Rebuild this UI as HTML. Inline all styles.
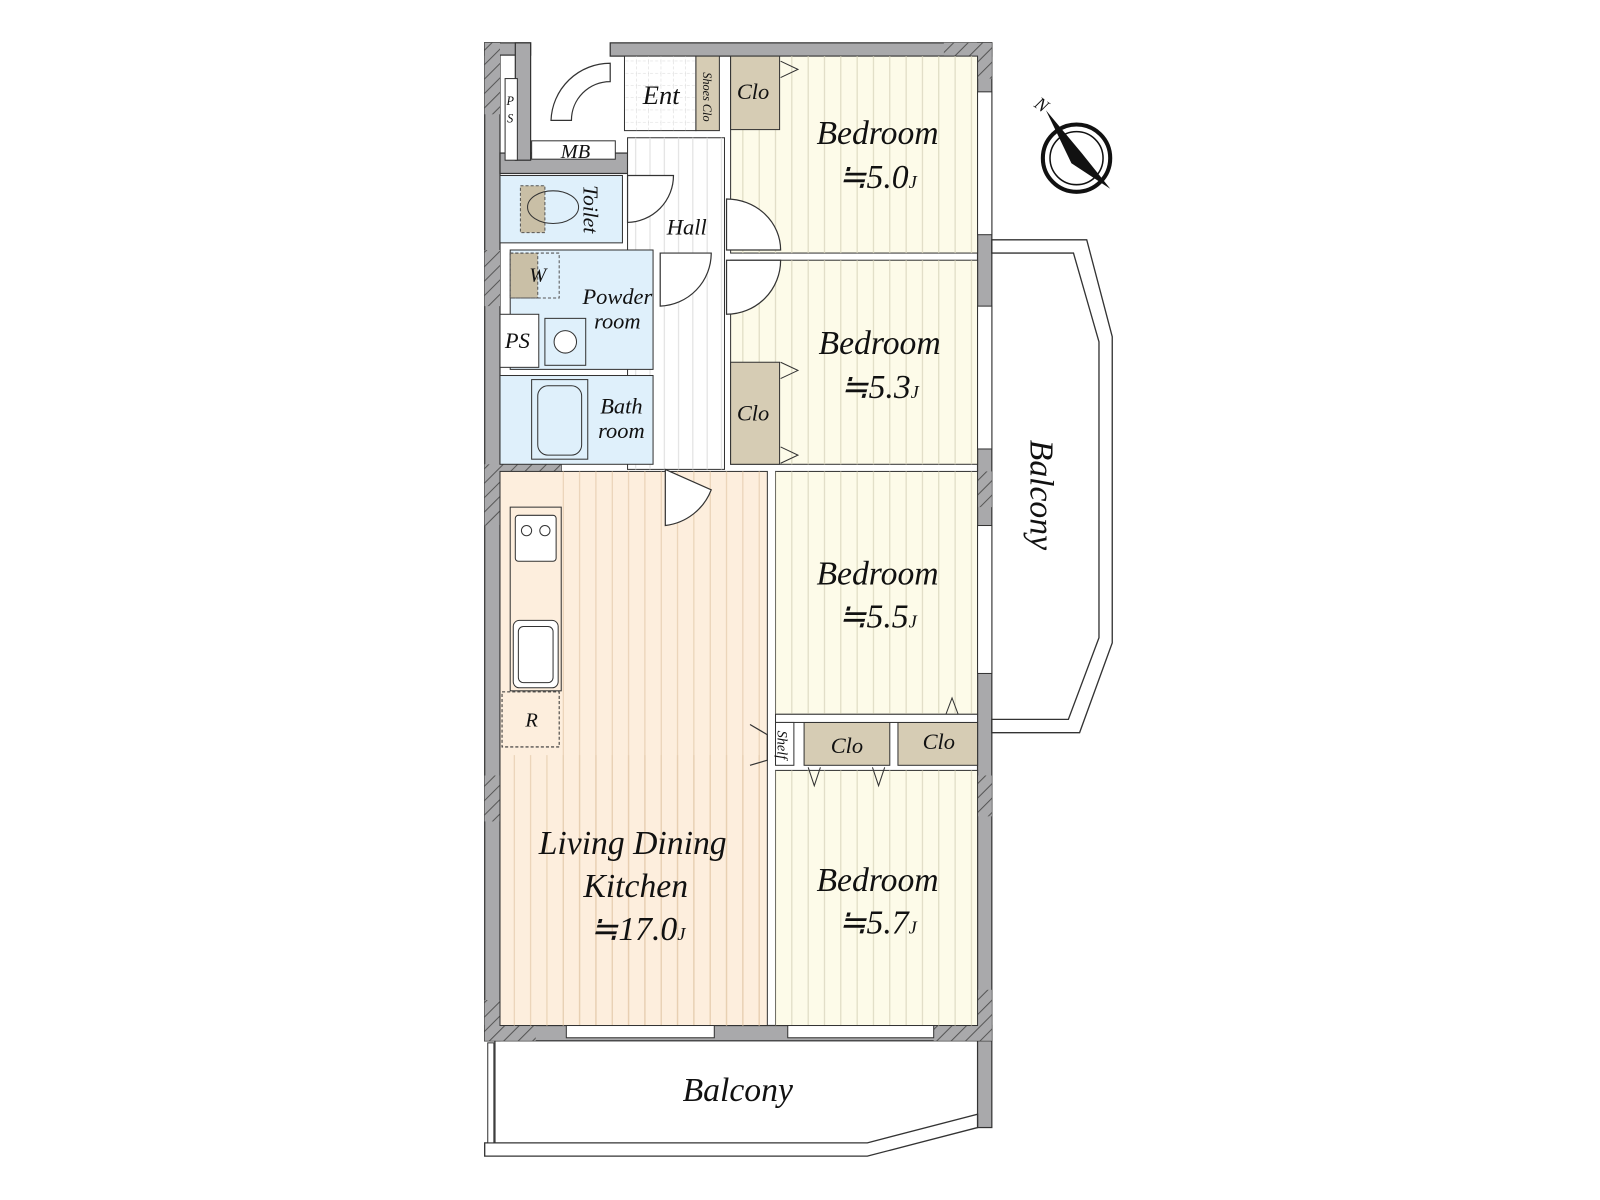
<!DOCTYPE html>
<html><head><meta charset="utf-8"><style>
html,body{margin:0;padding:0;background:#fff;}
svg{display:block}
text{font-family:"Liberation Serif",serif;font-style:italic;fill:#111}
</style></head><body>
<svg width="1600" height="1200" viewBox="0 0 1568 1176" xmlns="http://www.w3.org/2000/svg">
<defs>
<pattern id="st" width="16" height="20" patternUnits="userSpaceOnUse"><line x1="8" y1="0" x2="8" y2="20" stroke="#d9d6bd" stroke-width="1"/></pattern>
<pattern id="st2" width="16" height="20" patternUnits="userSpaceOnUse"><line x1="8" y1="0" x2="8" y2="20" stroke="#e6cdb0" stroke-width="1"/></pattern>
<pattern id="sth" width="14" height="20" patternUnits="userSpaceOnUse"><line x1="7" y1="0" x2="7" y2="20" stroke="#ddd" stroke-width="1"/></pattern>
<pattern id="tile" width="12" height="12" patternUnits="userSpaceOnUse"><path d="M12 0V12H0" fill="none" stroke="#ccc" stroke-width="0.8" stroke-dasharray="3 2"/></pattern>
<pattern id="hatch" width="10" height="10" patternUnits="userSpaceOnUse" patternTransform="rotate(45)"><rect width="10" height="10" fill="#a9a9ab"/><line x1="0" y1="0" x2="0" y2="10" stroke="#555" stroke-width="2"/></pattern>
</defs>
<g fill="#a9a9ab" stroke="#333" stroke-width="1.2">
<rect x="475" y="42" width="15" height="978"/>
<rect x="475" y="42" width="45" height="12"/>
<rect x="598" y="42" width="374" height="13"/>
<rect x="958" y="42" width="14" height="1063"/>
<rect x="475" y="1005" width="497" height="15"/>
<rect x="490" y="150" width="125" height="20"/>
<rect x="505" y="42" width="15" height="115"/>
<rect x="490" y="455" width="60" height="8"/>
</g>
<g fill="url(#hatch)">
<rect x="475" y="42" width="15" height="70"/>
<rect x="475" y="245" width="15" height="55"/>
<rect x="475" y="455" width="75" height="60"/>
<rect x="475" y="760" width="15" height="45"/>
<rect x="475" y="980" width="50" height="40"/>
<rect x="925" y="42" width="47" height="35"/>
<rect x="925" y="462" width="47" height="35"/>
<rect x="915" y="970" width="57" height="50"/>
<rect x="958" y="760" width="14" height="40"/>
</g>
<rect x="716" y="55" width="242" height="193" fill="#fdfbe9" stroke="#333"/>
<rect x="716" y="55" width="242" height="193" fill="url(#st)"/>
<rect x="716" y="255" width="242" height="200" fill="#fdfbe9" stroke="#333"/>
<rect x="716" y="255" width="242" height="200" fill="url(#st)"/>
<rect x="760" y="462" width="198" height="238" fill="#fdfbe9" stroke="#333"/>
<rect x="760" y="462" width="198" height="238" fill="url(#st)"/>
<rect x="760" y="755" width="198" height="250" fill="#fdfbe9" stroke="#333"/>
<rect x="760" y="755" width="198" height="250" fill="url(#st)"/>
<rect x="490" y="462" width="262" height="543" fill="#fdeedd" stroke="#333"/>
<rect x="550" y="462" width="202" height="543" fill="url(#st2)"/>
<rect x="490" y="740" width="262" height="265" fill="url(#st2)"/>
<rect x="615" y="135" width="95" height="325" fill="#fff" stroke="#333"/>
<rect x="615" y="135" width="95" height="325" fill="url(#sth)"/>
<rect x="612" y="55" width="70" height="73" fill="#fff" stroke="#333"/>
<rect x="612" y="55" width="70" height="73" fill="url(#tile)"/>
<rect x="682" y="55" width="23" height="73" fill="#d6ccb4" stroke="#333"/>
<rect x="716" y="55" width="48" height="72" fill="#d6ccb4" stroke="#333"/>
<rect x="716" y="355" width="48" height="100" fill="#d6ccb4" stroke="#333"/>
<rect x="788" y="708" width="84" height="42" fill="#d6ccb4" stroke="#333"/>
<rect x="880" y="708" width="78" height="42" fill="#d6ccb4" stroke="#333"/>
<rect x="760" y="700" width="198" height="8" fill="#fff" stroke="#333"/>
<rect x="760" y="708" width="18" height="42" fill="#fff" stroke="#333"/>
<g fill="none" stroke="#333">
<path d="M765 60 L782 68 L765 76"/><path d="M765 355 L782 363 L765 371"/><path d="M765 438 L782 446 L765 454"/>
<path d="M627 368 L632 386 L637 368"/>
<path d="M792 752 L798 770 L804 752"/><path d="M855 752 L861 770 L867 752"/>
<path d="M927 700 L933 684 L939 700"/>
</g>
<rect x="490" y="172" width="120" height="66" fill="#dff0fb" stroke="#333"/>
<rect x="500" y="245" width="140" height="117" fill="#dff0fb" stroke="#333"/>
<rect x="490" y="368" width="150" height="87" fill="#dff0fb" stroke="#333"/>
<rect x="490" y="308" width="38" height="52" fill="#fff" stroke="#333"/>
<rect x="534" y="312" width="40" height="46" fill="#dff0fb" stroke="#333"/>
<circle cx="554" cy="335" r="11" fill="#fff" stroke="#333"/>
<rect x="521" y="372" width="55" height="78" fill="#dff0fb" stroke="#333"/>
<rect x="527" y="378" width="43" height="68" rx="10" fill="none" stroke="#333"/>
<rect x="500" y="248" width="27" height="44" fill="#c9bfa6" stroke="#555" stroke-dasharray="3 2"/>
<rect x="500" y="248" width="48" height="44" fill="none" stroke="#555" stroke-dasharray="3 2"/>
<rect x="510" y="182" width="24" height="46" fill="#c9bfa6" stroke="#555" stroke-dasharray="3 2"/>
<ellipse cx="542" cy="203" rx="25" ry="16" fill="none" stroke="#333"/>
<rect x="495" y="77" width="12" height="80" fill="#fff" stroke="#333"/>
<rect x="521" y="138" width="82" height="18" fill="#fff" stroke="#333"/>
<rect x="500" y="497" width="50" height="180" fill="#fdeedd" stroke="#333"/>
<rect x="505" y="505" width="40" height="45" rx="3" fill="#fff" stroke="#333"/>
<circle cx="516" cy="520" r="5" fill="none" stroke="#333"/><circle cx="534" cy="520" r="5" fill="none" stroke="#333"/>
<rect x="503" y="608" width="44" height="66" rx="6" fill="#fff" stroke="#333"/>
<rect x="508" y="614" width="34" height="55" rx="5" fill="none" stroke="#333"/>
<rect x="492" y="678" width="56" height="54" fill="#fdeedd" stroke="#333" stroke-dasharray="3 2"/>
<g fill="#fff" stroke="#333" stroke-width="1.2">
<path d="M652 460 V515 A55 55 0 0 0 697 480 Z"/>
<path d="M712 245 V195 A53 50 0 0 1 765 245 Z"/>
<path d="M712 255 H765 A53 53 0 0 1 712 308 Z"/>
<path d="M615 172 V218 A46 46 0 0 0 660 172 Z"/>
<path d="M647 248 V300 A52 52 0 0 0 697 248 Z"/>
<path d="M598 62 A58 58 0 0 0 540 118 H560 A38 38 0 0 1 598 80 Z"/>
<path d="M735 710 L752 720 V745 L735 750" fill="none"/>
</g>
<path d="M485 1020 V1120 H475 V1133 H850 L958 1105 V1092 L850 1120 H485" fill="#fff" stroke="#333" stroke-width="1.3"/>
<rect x="478" y="1022" width="6" height="98" fill="#fff" stroke="#333"/>
<rect x="555" y="1005" width="145" height="12" fill="#fff" stroke="#333"/>
<rect x="772" y="1005" width="143" height="12" fill="#fff" stroke="#333"/>
<path d="M972 235 H1065 L1090 330 V630 L1058 718 H972 V705 H1047 L1077 625 V335 L1052 248 H972 Z" fill="#fff" stroke="#333" stroke-width="1.3"/>
<rect x="958" y="90" width="14" height="140" fill="#fff" stroke="#333"/>
<rect x="958" y="300" width="14" height="140" fill="#fff" stroke="#333"/>
<rect x="958" y="515" width="14" height="145" fill="#fff" stroke="#333"/>
<circle cx="1055" cy="155" r="33" fill="#fff" stroke="#111" stroke-width="4"/>
<circle cx="1055" cy="155" r="26" fill="none" stroke="#111" stroke-width="1.5"/>
<path d="M1025 108 L1060 150 L1088 185 L1050 160 Z" fill="#111"/>
<text x="1015" y="108" font-size="18" transform="rotate(35 1020 102)">N</text>
<g font-size="33" text-anchor="middle">
<text x="860" y="141">Bedroom</text><text x="860" y="184">≒5.0<tspan font-size="18">J</tspan></text>
<text x="862" y="347">Bedroom</text><text x="862" y="390">≒5.3<tspan font-size="18">J</tspan></text>
<text x="860" y="573">Bedroom</text><text x="860" y="615">≒5.5<tspan font-size="18">J</tspan></text>
<text x="860" y="873">Bedroom</text><text x="860" y="915">≒5.7<tspan font-size="18">J</tspan></text>
<text x="620" y="837">Living Dining</text><text x="623" y="879">Kitchen</text>
<text x="625" y="921">≒17.0<tspan font-size="18">J</tspan></text>
<text x="723" y="1079">Balcony</text>
<text x="1010" y="485" transform="rotate(90 1010 485)">Balcony</text>
</g>
<g font-size="23" text-anchor="middle">
<text x="648" y="102" font-size="26">Ent</text>
<text x="738" y="97" font-size="22">Clo</text>
<text x="738" y="412" font-size="22">Clo</text>
<text x="830" y="738" font-size="22">Clo</text>
<text x="920" y="734" font-size="22">Clo</text>
<text x="673" y="230" font-size="22">Hall</text>
<text x="605" y="298" font-size="22">Powder</text><text x="605" y="322" font-size="22">room</text>
<text x="609" y="405" font-size="22">Bath</text><text x="609" y="429" font-size="22">room</text>
<text x="507" y="341" font-size="22">PS</text>
<text x="564" y="155" font-size="20">MB</text>
<text x="527" y="276" font-size="20">W</text>
<text x="521" y="712" font-size="20">R</text>
<text x="572" y="205" font-size="21" transform="rotate(90 572 205)">Toilet</text>
<text x="762" y="730" font-size="14" transform="rotate(90 762 730)">Shelf</text>
<text x="689" y="95" font-size="12" transform="rotate(90 689 95)">Shoes Clo</text>
<text x="500" y="103" font-size="12">P</text><text x="500" y="120" font-size="12">S</text>
</g>
</svg>
</body></html>
